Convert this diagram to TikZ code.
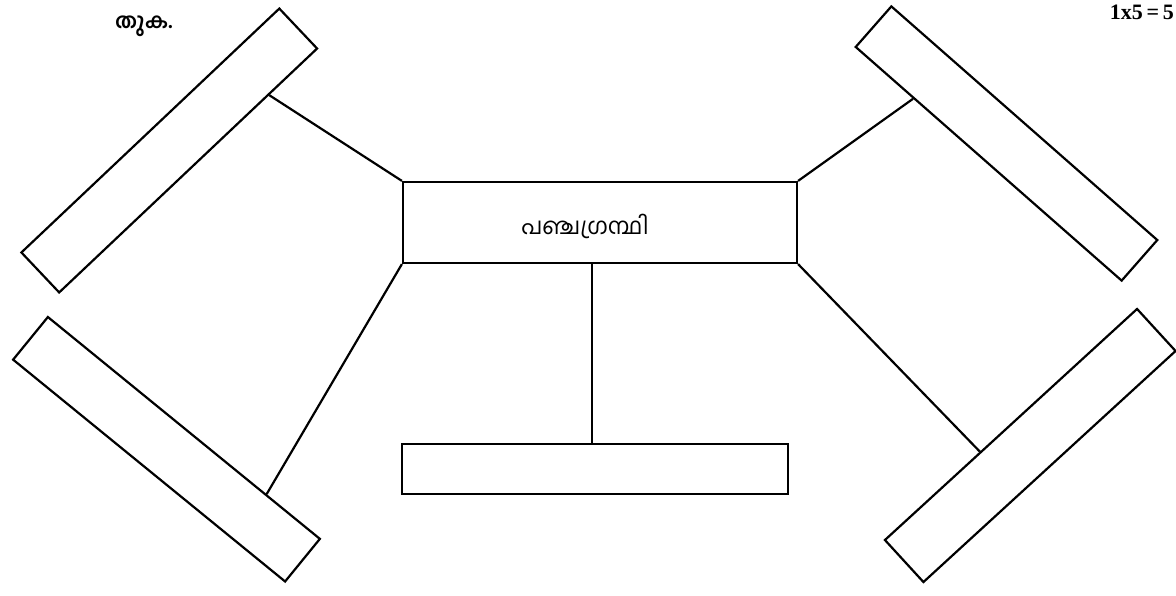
\documentclass[tikz,border=0pt]{standalone}
\usepackage{fontspec}
\newfontfamily\mlfont[Script=Malayalam]{Hind Kochi}
\newfontfamily\numfont{Liberation Serif}
\usetikzlibrary{calc}
\begin{document}
\begin{tikzpicture}[x=1pt,y=-1pt,
  box/.style={draw, line width=2.2pt, inner sep=0pt, minimum height=55pt, minimum width=352pt},
  link/.style={line width=2.2pt}]
\useasboundingbox (0,0) rectangle (1176,595);
% centre box
\node[draw, line width=2.2pt, inner sep=0pt, minimum width=394pt, minimum height=81pt] (c) at (600,222.5) {};
\node (ctext) at (585,226) {\mlfont\fontsize{23}{28}\selectfont പഞ്ചഗ്രന്ഥി};
% bottom box
\node[draw, line width=2.2pt, inner sep=0pt, minimum width=386pt, minimum height=50pt] (b) at (595,469) {};
% rotated boxes
\node[box, minimum width=355pt, rotate=43.4] (tl) at (169.25,150.5) {};
\node[box, minimum width=354pt, minimum height=54pt, rotate=-41.3] (tr) at (1006.5,143.5) {};
\node[box, minimum width=351pt, rotate=-39.2] (bl) at (166.5,449.25) {};
\node[box, minimum width=342pt, minimum height=57pt, rotate=42.5] (br) at (1030.25,445.5) {};
% labels
\node (lbl) at (144,26) {\mlfont\bfseries\fontsize{21}{25}\selectfont തുക.};
\node[anchor=north east, inner sep=0pt] (marks) at (1174,5) {\numfont\bfseries\fontsize{22}{26}\selectfont 1x5\,=\,5};
% connectors
\draw[link] ($(tl.south east)!0.19!(tl.south west)$) -- (c.north west);
\draw[link] ($(tr.south west)!0.22!(tr.south east)$) -- (c.north east);
\draw[link] ($(bl.north west)!0.80!(bl.north east)$) -- (c.south west);
\draw[link] ($(br.north west)!0.38!(br.north east)$) -- (c.south east);
\draw[link] (b.north -| 592,0) -- (c.south -| 592,0);
\end{tikzpicture}
\end{document}
